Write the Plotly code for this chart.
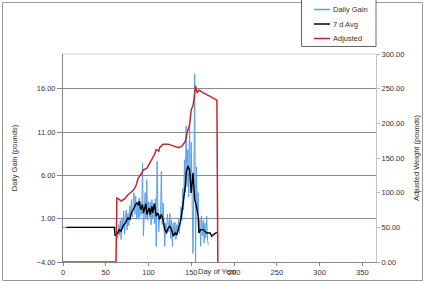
import plotly.graph_objects as go

# ---------------- data ----------------
gain_days = [0, 62] + list(range(63, 171))
gain_vals = [0.0, 0.0,
    -0.5, -1.2, 0.3, -0.9, 0.8, -1.4, 1.1, -0.2, 1.9, -0.8,      # 63-72
    1.0, 2.0, -0.3, 1.6, 0.2, 2.5, 0.8, 3.2, 1.2, 2.4,           # 73-82
    4.0, 1.5, 3.6, 1.0, 2.8, 0.9, 3.4, 1.2, 3.0, 1.5,            # 83-92
    7.4, -1.0, 2.5, 4.0, 1.0, 5.5, 0.8, 3.0, 1.2, 2.9,           # 93-102
    0.3, 3.2, 1.0, 2.8, 0.4, 3.3, -2.2, 7.6, 2.0, -0.5,          # 103-112
    1.5, 1.0, 6.5, 0.3, 2.8, 0.5, -2.2, 0.5, -0.8, 1.5,          # 113-122
    0.2, -0.5, 1.6, -1.3, 0.8, -2.2, 0.5, -1.0, 0.6, -1.4,       # 123-132
    0.3, -0.5, 0.9, -0.7, 0.5, 2.4, 0.8, 4.5, 2.0, 7.8,          # 133-142
    4.0, 11.7, 4.7, 9.0, 3.5, 12.1, 4.0, 9.8, 3.2, -3.0,         # 143-152
    5.0, 17.7, -4.1, 7.0, 2.0, 4.0, -0.6, 1.0, -2.2, 1.3,        # 153-162
    -1.0, 0.8, -1.8, 0.5, -1.2, 1.3, -1.5, -2.0]                 # 163-170

avg_days = [4, 60, 61, 64, 66, 68, 70, 73, 76, 78, 80, 84, 86, 88, 89, 91, 93,
            94, 97, 98, 101, 102, 104, 105, 107, 109, 111, 113, 115, 117, 119,
            121, 123, 125, 127, 129, 131, 133, 135, 137, 139, 141, 143, 144,
            146, 148, 149, 150, 152, 153, 154, 156, 158, 159, 161, 164, 168,
            172, 174, 176, 180]
avg_vals = [0.0, 0.0, -0.96, -0.65, -0.26, -0.45, 0.12, 0.51, 1.09, 0.89, 1.66,
            2.44, 2.82, 2.63, 3.01, 2.05, 2.63, 1.66, 2.74, 1.47, 2.24, 1.47,
            2.44, 1.66, 2.74, 1.28, 1.66, 0.89, 1.47, 0.89, -0.26, -0.65,
            -0.07, 0.12, -0.26, -1.03, -0.65, -0.84, -0.26, 0.51, 1.66, 3.2,
            4.75, 6.29, 7.06, 6.67, 4.75, 3.98, 6.29, 3.6, 3.2, 2.44, 1.28,
            -0.65, -0.26, -0.26, -0.65, -0.65, -1.03, -0.84, -0.57]

adj_days = [0, 62, 63, 65, 68, 72, 76, 82, 85, 88, 92, 94, 98, 102, 104, 107,
            109, 112, 113, 117, 123, 127, 131, 135, 139, 143, 145, 148, 150,
            152, 153, 155, 156, 157, 159, 164, 172, 180, 181]
adj_vals = [0, 0, 92, 91, 88, 91, 97, 103, 109, 121, 128, 133, 135, 143, 147,
            155, 162, 160, 165, 170, 170, 168, 166, 165, 167, 174, 186, 198,
            220, 225, 234, 254, 248, 244, 248, 244, 239, 233.5, 0]

series_names = ["Daily Gain", "7 d Avg", "Adjusted"]
series_colors = ["#5a9fe6", "#000000", "#c0272d"]

left_ticks = [-4, 1, 6, 11, 16]
right_ticks = [0, 50, 100, 150, 200, 250, 300]
x_ticks = [0, 50, 100, 150, 200, 250, 300, 350]

# ---------------- layout geometry ----------------
W, H = 425, 283
L, T, PW, PH = 63, 54, 313, 208
R = W - L - PW
B = H - T - PH

def px(x):
    return (x - L) / PW

def py(y):
    return (T + PH - y) / PH

FONT = "Liberation Sans, Arial, sans-serif"
TXT = "#333333"

fig = go.Figure()
fig.add_trace(go.Scatter(x=gain_days, y=gain_vals, mode="lines",
                         name=series_names[0],
                         line=dict(color=series_colors[0], width=1),
                         yaxis="y"))
fig.add_trace(go.Scatter(x=avg_days, y=avg_vals, mode="lines",
                         name=series_names[1],
                         line=dict(color=series_colors[1], width=1.4),
                         yaxis="y"))
fig.add_trace(go.Scatter(x=adj_days, y=adj_vals, mode="lines",
                         name=series_names[2],
                         line=dict(color=series_colors[2], width=1.5),
                         yaxis="y2"))

fig.update_layout(
    width=W, height=H,
    margin=dict(l=L, r=R, t=T, b=B, autoexpand=False),
    paper_bgcolor="white", plot_bgcolor="white",
    showlegend=False,
    font=dict(family=FONT, size=7.5, color=TXT),
    xaxis=dict(range=[0, 366], tickvals=x_ticks, ticks="outside", ticklen=3,
               tickcolor="#888888", showline=True, linecolor="#888888",
               showgrid=False, zeroline=False, layer="below traces",
               tickfont=dict(size=7.5, color=TXT)),
    yaxis=dict(range=[-4, 20], tickvals=left_ticks, tickformat=".2f",
               ticks="outside", ticklen=5, tickcolor="#888888",
               showline=True, linecolor="#888888", showgrid=True,
               gridcolor="#8c8c8c", gridwidth=1, zeroline=False,
               layer="below traces",
               title=dict(text="Daily Gain (pounds)", standoff=17,
                          font=dict(size=7.5, color=TXT)),
               tickfont=dict(size=7.5, color=TXT)),
    yaxis2=dict(range=[0, 300], tickvals=right_ticks, tickformat=".2f",
                overlaying="y", side="right", ticks="outside", ticklen=3,
                tickcolor="#bbbbbb", showline=True, linecolor="#c4c4c4",
                showgrid=False, zeroline=False, layer="below traces",
                title=dict(text="Adjusted Weight (pounds)", standoff=10,
                           font=dict(size=7.5, color=TXT)),
                tickfont=dict(size=7.5, color=TXT)),
)

shapes = []
# top frame line of plot area
shapes.append(dict(type="line", xref="paper", yref="paper", x0=0, x1=1,
                   y0=1, y1=1, line=dict(color="#cccccc", width=1)))
# outer chart border
shapes.append(dict(type="rect", xref="paper", yref="paper",
                   x0=px(2.5), x1=px(422.5), y0=py(280.5), y1=py(2.5),
                   line=dict(color="#999999", width=1)))
# legend box
shapes.append(dict(type="rect", xref="paper", yref="paper",
                   x0=px(301.5), x1=px(376), y0=py(46.5), y1=py(-5),
                   fillcolor="white", line=dict(color="#666666", width=1)))
legend_y = [9.5, 24, 38.5]
for name, col, yy in zip(series_names, series_colors, legend_y):
    shapes.append(dict(type="line", xref="paper", yref="paper",
                       x0=px(314), x1=px(330), y0=py(yy), y1=py(yy),
                       line=dict(color=col, width=1.5)))
fig.update_layout(shapes=shapes)

annotations = []
for name, yy in zip(series_names, legend_y):
    annotations.append(dict(text=name, xref="paper", yref="paper",
                            x=px(330.5), y=py(yy), xanchor="left",
                            yanchor="middle", showarrow=False,
                            font=dict(size=7.5, color=TXT)))
annotations.append(dict(text="Day of Year", xref="paper", yref="paper",
                        x=px(217), y=py(271), xanchor="center",
                        yanchor="middle", showarrow=False,
                        font=dict(size=7.5, color=TXT)))
fig.update_layout(annotations=annotations)

fig.write_html("out.html")
